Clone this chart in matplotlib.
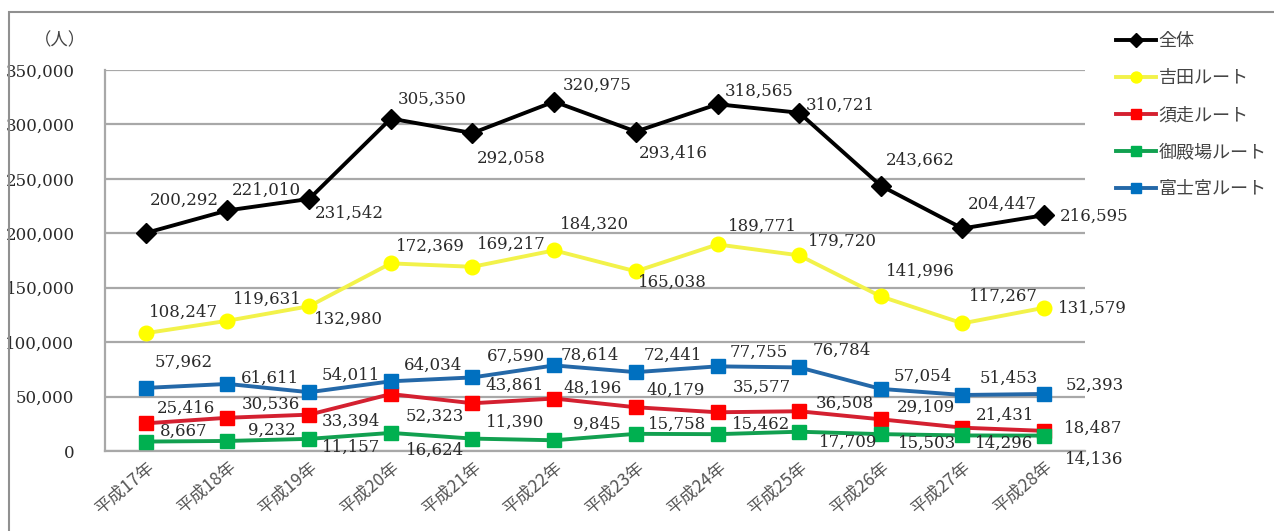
import matplotlib.pyplot as plt
from matplotlib.patches import Rectangle

years = ['平成17年', '平成18年', '平成19年', '平成20年', '平成21年', '平成22年',
         '平成23年', '平成24年', '平成25年', '平成26年', '平成27年', '平成28年']

total = [200292, 221010, 231542, 305350, 292058, 320975, 293416, 318565, 310721, 243662, 204447, 216595]
yoshida = [108247, 119631, 132980, 172369, 169217, 184320, 165038, 189771, 179720, 141996, 117267, 131579]
subashiri = [25416, 30536, 33394, 52323, 43861, 48196, 40179, 35577, 36508, 29109, 21431, 18487]
gotemba = [8667, 9232, 11157, 16624, 11390, 9845, 15758, 15462, 17709, 15503, 14296, 14136]
fujinomiya = [57962, 61611, 54011, 64034, 67590, 78614, 72441, 77755, 76784, 57054, 51453, 52393]

yticks = [0, 50000, 100000, 150000, 200000, 250000, 300000, 350000]

# label offsets (pixels, right/up) -- labels were hand placed in the original
off_total = [(38, 33), (39, 20), (40, -14), (41, 19), (39, -25), (43, 16),
             (37, -22), (42, 13), (41, 7), (39, 25), (40, 24), (50, -1)]
off_yoshida = [(38, 21), (40, 21), (39, -13), (40, 17), (39, 22), (40, 26),
               (37, -11), (45, 18), (43, 14), (39, 25), (41, 27), (48, -1)]
off_fuji = [(38, 26), (43, 6), (42, 17), (42, 16), (43, 21), (36, 10),
            (37, 17), (41, 14), (43, 17), (42, 13), (46, 17), (51, 9)]
off_suba = [(40, 15), (43, 13), (42, -7), (44, -22), (42, 18), (38, 10),
            (40, 17), (44, 25), (46, 8), (45, 12), (43, 12), (49, 3)]
off_gote = [(38, 10), (44, 11), (42, -8), (44, -17), (43, 16), (43, 16),
            (41, 10), (44, 10), (49, -11), (46, -9), (42, -8), (50, -24)]

num_font = ['DejaVu Serif', 'Noto Sans CJK JP']
jp_font = ['Noto Sans CJK JP', 'DejaVu Sans']

fig = plt.figure(figsize=(12.74, 5.31), dpi=100)
ax = fig.add_axes([105/1274, 1-451/531, 980/1274, 381/531])

x = range(len(years))
series = [
    ('全体', total, '#000000', '#000000', 'D', 10, off_total),
    ('吉田ルート', yoshida, '#F2F24A', '#FFFF00', 'o', 10.5, off_yoshida),
    ('須走ルート', subashiri, '#D42030', '#FF0000', 's', 10, off_suba),
    ('御殿場ルート', gotemba, '#12A050', '#00B050', 's', 10, off_gote),
    ('富士宮ルート', fujinomiya, '#2468A8', '#0070C0', 's', 10, off_fuji),
]

handles = []
for name, vals, lc, mc, mk, ms, offs in series:
    h, = ax.plot(x, vals, color=lc, lw=2.8, marker=mk, ms=ms,
                 markerfacecolor=mc, markeredgecolor=mc, label=name, zorder=3)
    handles.append(h)
    for i, v in enumerate(vals):
        ax.annotate(f'{v:,}', (i, v), xytext=offs[i], textcoords='offset pixels',
                    ha='center', va='center', fontsize=12, color='#2a2a2a',
                    family=num_font, zorder=4)

ax.set_xlim(-0.5, len(years) - 0.5)
ax.set_ylim(0, 350000)
ax.set_yticks(yticks)
ax.set_yticklabels([f'{t:,}' for t in yticks], family=num_font, fontsize=12, color='#2a2a2a')
ax.set_xticks(list(x))
ax.set_xticklabels(years, rotation=40, ha='right', rotation_mode='anchor',
                   family=jp_font, fontsize=12.5, color='#555555')
ax.tick_params(length=0, axis='y', pad=22)
ax.tick_params(length=0, axis='x', pad=5)
ax.grid(axis='y', color='#a8a8a8', lw=1.6, zorder=0)
for s in ['top', 'right']:
    ax.spines[s].set_visible(False)
ax.spines['left'].set_color('#a8a8a8')
ax.spines['left'].set_linewidth(1.6)
ax.spines['bottom'].set_color('#a8a8a8')
ax.spines['bottom'].set_linewidth(1.6)

fig.text(60/1274, 1-40/531, '（人）', family=jp_font, fontsize=12.5, color='#444444',
         ha='center', va='center')

leg = fig.legend(handles=handles, loc='upper left', bbox_to_anchor=(1100/1274, 1-16/531),
                 frameon=False, prop={'family': jp_font, 'size': 13}, handlelength=2.2,
                 handletextpad=0.15, labelspacing=1.05, markerscale=0.75)
for t in leg.get_texts():
    t.set_color('#444444')

fig.patches.append(Rectangle((9/1274, -0.05), 1.1, 1.05-12/531, transform=fig.transFigure,
                             fill=False, edgecolor='#909090', lw=1.5))

fig.savefig('out.png', dpi=100)
